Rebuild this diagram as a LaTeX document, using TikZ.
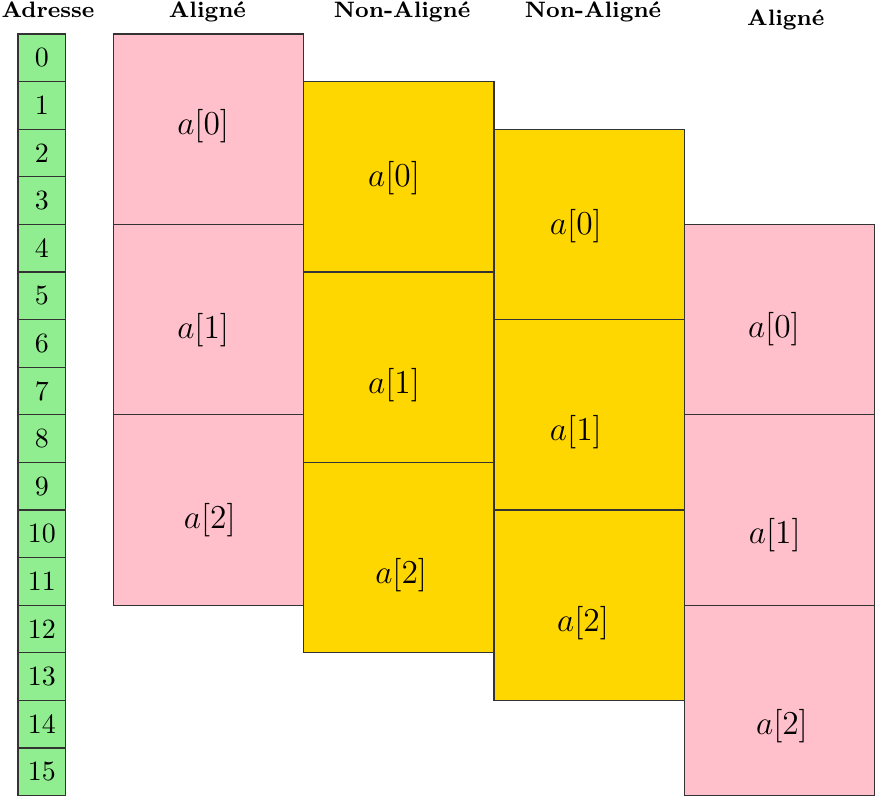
\documentclass[tikz,border=0pt]{standalone}
\definecolor{vert}{HTML}{90EE90}
\definecolor{rose}{HTML}{FFC0CB}
\definecolor{jaune}{HTML}{FFD700}
\tikzset{
  bloc/.style={draw=black!80, line width=0.4pt},
  titre/.style={font=\footnotesize\bfseries, anchor=base},
  elem/.style={font=\large}
}

\begin{document}
\begin{tikzpicture}[x=0.6cm, y=-0.6cm]
        \useasboundingbox (-0.378,-0.714) rectangle (18.025,16.03);
        % adresses
        \node [titre] (tadr) at (0.63,-0.35) {Adresse};
        \foreach \i in {0,...,15} {
            \draw [bloc, fill=vert] (0,\i) rectangle (1,\i+1);
            \node (adr\i) at (0.5,\i+0.5) {\i};
        }
        % aligne
        \node [titre] (tal) at (3.98,-0.35) {Align\'e};
        \draw [bloc, fill=rose] (2,0) rectangle (6,4);
        \draw [bloc, fill=rose] (2,4) rectangle (6,8);
        \draw [bloc, fill=rose] (2,8) rectangle (6,12);
        \node [elem] (al0) at (3.89,1.93) {$a[0]$};
        \node [elem] (al1) at (3.89,6.22) {$a[1]$};
        \node [elem] (al2) at (4.03,10.21) {$a[2]$};
        % non aligne, decalage 1
        \node [titre] (tna) at (8.07,-0.35) {Non-Align\'e};
        \draw [bloc, fill=jaune] (6,1) rectangle (10,5);
        \draw [bloc, fill=jaune] (6,5) rectangle (10,9);
        \draw [bloc, fill=jaune] (6,9) rectangle (10,13);
        \node [elem] (na0) at (7.90,3.03) {$a[0]$};
        \node [elem] (na1) at (7.90,7.37) {$a[1]$};
        \node [elem] (na2) at (8.05,11.37) {$a[2]$};
        % non aligne, decalage 2
        \node [titre] (tnb) at (12.08,-0.35) {Non-Align\'e};
        \draw [bloc, fill=jaune] (10,2) rectangle (14,6);
        \draw [bloc, fill=jaune] (10,6) rectangle (14,10);
        \draw [bloc, fill=jaune] (10,10) rectangle (14,14);
        \node [elem] (nb0) at (11.72,4.03) {$a[0]$};
        \node [elem] (nb1) at (11.72,8.36) {$a[1]$};
        \node [elem] (nb2) at (11.87,12.37) {$a[2]$};
        % aligne, decalage 4
        \node [titre] (tam) at (16.13,-0.17) {Align\'e};
        \draw [bloc, fill=rose] (14,4) rectangle (18,8);
        \draw [bloc, fill=rose] (14,8) rectangle (18,12);
        \draw [bloc, fill=rose] (14,12) rectangle (18,16);
        \node [elem] (am0) at (15.88,6.20) {$a[0]$};
        \node [elem] (am1) at (15.90,10.53) {$a[1]$};
        \node [elem] (am2) at (16.05,14.54) {$a[2]$};
    \end{tikzpicture}
\end{document}
